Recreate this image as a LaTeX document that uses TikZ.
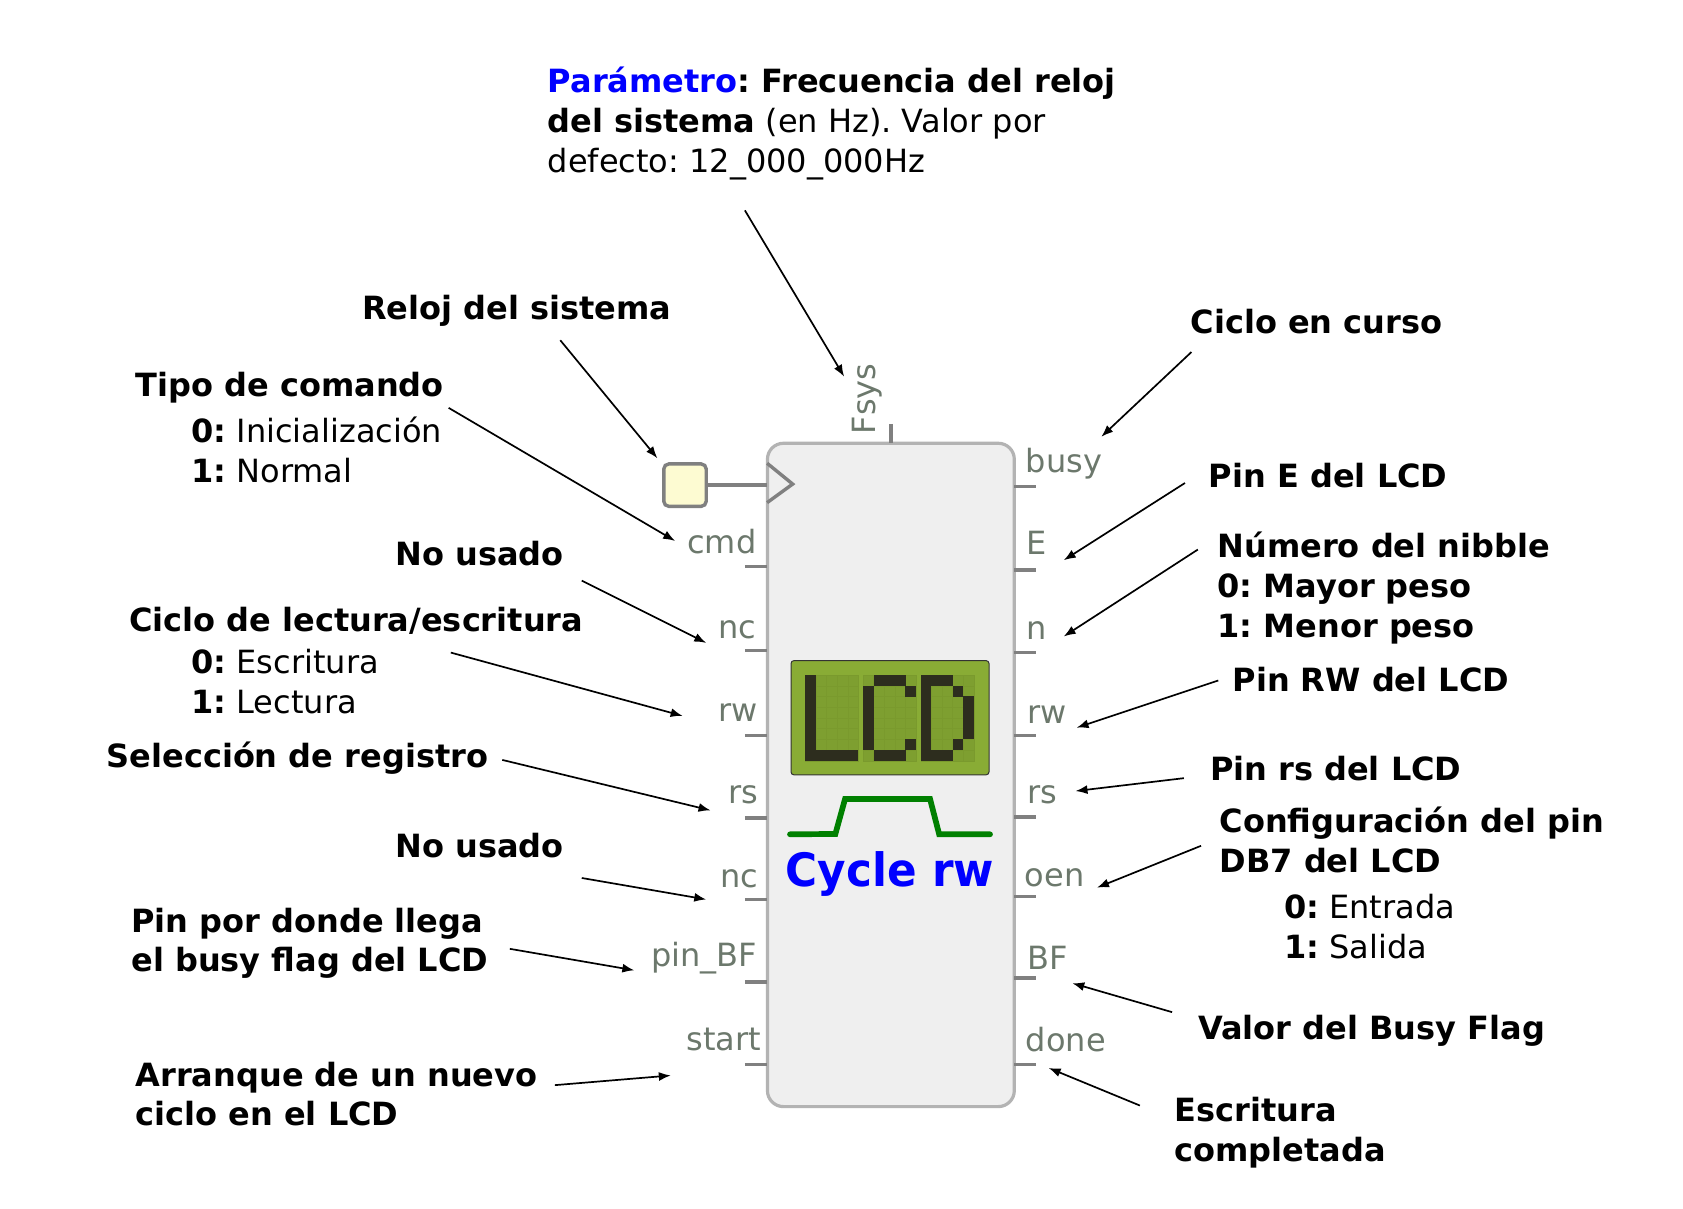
\documentclass[tikz,border=0pt]{standalone}
\usepackage{graphicx}
\usepackage{fontspec}
\setmainfont{DejaVu Sans}
\usetikzlibrary{arrows.meta}
\definecolor{blockFill}{HTML}{EFEFEF}
\definecolor{blockLine}{HTML}{B3B3B3}
\definecolor{stubLine}{HTML}{808080}
\definecolor{pinText}{HTML}{6C786C}
\definecolor{clockFill}{HTML}{FDFBD2}
\definecolor{lcdFill}{HTML}{89AC35}
\definecolor{lcdCell}{HTML}{7E9F30}
\definecolor{lcdGrid}{HTML}{7A9A2D}
\definecolor{lcdDot}{HTML}{2D2D1E}
\tikzset{%
  >={Latex[width=4.5pt,length=6pt]},
  % Specifications for style of nodes:
        callout/.style = {inner sep=0pt, align=left, anchor=base west,
                          font=\fontsize{16}{19.86}\selectfont\frenchspacing},
       pinLabel/.style = {inner sep=0pt, text=pinText,
                          font=\fontsize{16}{19.86}\selectfont},
        pinLeft/.style = {pinLabel, anchor=base east},
       pinRight/.style = {pinLabel, anchor=base west},
        pinStub/.style = {draw=stubLine, line width=1.7pt},
        pointer/.style = {->, line width=0.85pt},
}

\begin{document}
\begin{tikzpicture}[x=0.53665pt, y=-0.53665pt]
  \useasboundingbox (0,0) rectangle (1568,1125.5);

  % Specification of the block, clock and pins
  \node (block) [draw=blockLine, fill=blockFill, line width=1.6pt, rounded corners=8pt,
                 minimum width=230*0.53665pt, minimum height=618*0.53665pt, inner sep=0pt]
        at (830,722) {};
  \node (clock) [draw=stubLine, fill=clockFill, line width=1.7pt, rounded corners=2.5pt,
                 minimum size=39.5*0.53665pt, inner sep=0pt] at (638.2,452) {};
  \draw[pinStub] (clock.east) -- (714.7,452);
  \draw[pinStub] (714.7,431.6) -- (738.5,451) -- (714.7,468.3);
  \draw[pinStub] (830,395) -- (830,413);

  \draw[pinStub] (694,528) -- (715,528);
  \draw[pinStub] (694,606) -- (715,606);
  \draw[pinStub] (694,685) -- (715,685);
  \draw[pinStub] (694,762) -- (715,762);
  \draw[pinStub] (694,838) -- (715,838);
  \draw[pinStub] (694,915) -- (715,915);
  \draw[pinStub] (694,992) -- (715,992);
  \draw[pinStub] (945,453) -- (965,453);
  \draw[pinStub] (945,531) -- (965,531);
  \draw[pinStub] (945,608) -- (965,608);
  \draw[pinStub] (945,685) -- (965,685);
  \draw[pinStub] (945,761) -- (965,761);
  \draw[pinStub] (945,835) -- (965,835);
  \draw[pinStub] (945,911) -- (965,911);
  \draw[pinStub] (945,992) -- (965,992);

  \node (pinFsys)  [pinLabel, rotate=90, anchor=base west] at (816,405) {Fsys};
  \node (pinCmd)   [pinLeft]  at (705,516) {cmd};
  \node (pinNcA)   [pinLeft]  at (705,595) {nc};
  \node (pinRwL)   [pinLeft]  at (706.5,672) {rw};
  \node (pinRsL)   [pinLeft]  at (707,749) {rs};
  \node (pinNcB)   [pinLeft]  at (707,827) {nc};
  \node (pinBf)    [pinLeft]  at (705.5,900) {pin\_BF};
  \node (pinStart) [pinLeft]  at (709.5,979) {start};
  \node (pinBusy)  [pinRight] at (955.5,440) {busy};
  \node (pinE)     [pinRight] at (956,517) {E};
  \node (pinN)     [pinRight] at (956,596) {n};
  \node (pinRwR)   [pinRight] at (956.5,674) {rw};
  \node (pinRsR)   [pinRight] at (956.5,749) {rs};
  \node (pinOen)   [pinRight] at (954.5,826) {oen};
  \node (pinBfR)   [pinRight] at (956.5,903) {BF};
  \node (pinDone)  [pinRight] at (955.5,980) {done};

  % LCD display
  \node (lcd) [draw=black!80, fill=lcdFill, line width=0.5pt, rounded corners=1.5pt,
               minimum width=184.5*0.53665pt, minimum height=106.5*0.53665pt, inner sep=0pt]
        at (829.2,668.7) {};
  \foreach \ox in {750.3,804.1,857.8}
    \foreach \c in {0,...,4}
      \foreach \r in {0,...,7}
        \draw[fill=lcdCell, draw=lcdGrid, line width=0.2pt]
          ({\ox+\c*9.876},{628.9+\r*9.98}) rectangle ++(9.876,9.98);
  \foreach \ox/\cells in {%
      750.3/{0/0,0/1,0/2,0/3,0/4,0/5,0/6,0/7,1/7,2/7,3/7,4/7},
      804.1/{1/0,2/0,3/0,4/1,0/1,0/2,0/3,0/4,0/5,0/6,4/6,1/7,2/7,3/7},
      857.8/{0/0,0/1,0/2,0/3,0/4,0/5,0/6,0/7,1/0,2/0,3/1,4/2,4/3,4/4,4/5,3/6,1/7,2/7}}
    \foreach \c/\r in \cells
      \fill[lcdDot] ({\ox+\c*9.876},{628.9+\r*9.98}) rectangle ++(9.976,10.08);

  % Pulse and name of the block
  \draw[green!50!black, line width=2.85pt, line cap=round]
    (736,777.3) -- (778.3,777) -- (787.3,744.4) -- (866.5,744.4) -- (875,777.3) -- (922.4,777.3);
  \node (blockName) [inner sep=0pt, anchor=base, text=blue,
                     font=\fontsize{23}{28}\selectfont\bfseries] at (829,826) {\scalebox{0.95}[1]{Cycle rw}};

  % Specification of the texts (a node's base is its last line)
  \node (lblParam)   [callout] at (510,160.5){\textbf{\textcolor{blue}{Parámetro}: Frecuencia del reloj}\\
                                              \textbf{del sistema} (en Hz). Valor por\\
                                              defecto: 12\_000\_000Hz};
  \node (lblReloj)   [callout] at (337,298)  {\textbf{Reloj del sistema}};
  \node (lblTipo)    [callout] at (126,369)  {\textbf{Tipo de comando}};
  \node (lblTipoVal) [callout] at (178,449.5){\textbf{0:} Inicialización\\\textbf{1:} Normal};
  \node (lblNoA)     [callout] at (368,527)  {\textbf{No usado}};
  \node (lblCiclo)   [callout] at (120,588.5){\textbf{Ciclo de lectura/escritura}};
  \node (lblCicloVal)[callout] at (178,664.5){\textbf{0:} Escritura\\\textbf{1:} Lectura};
  \node (lblSel)     [callout] at (99,715.5) {\textbf{Selección de registro}};
  \node (lblNoB)     [callout] at (368,798.5){\textbf{No usado}};
  \node (lblBusy)    [callout] at (122,905.5){\textbf{Pin por donde llega}\\\textbf{el busy flag del LCD}};
  \node (lblStart)   [callout] at (126,1049) {\textbf{Arranque de un nuevo}\\\textbf{ciclo en el LCD}};
  \node (lblCurso)   [callout] at (1109,310.5){\textbf{Ciclo en curso}};
  \node (lblPinE)    [callout] at (1126,454.5){\textbf{Pin E del LCD}};
  \node (lblNibble)  [callout] at (1134,593.5){\textbf{Número del nibble}\\\textbf{0: Mayor peso}\\\textbf{1: Menor peso}};
  \node (lblPinRw)   [callout] at (1148,644.5){\textbf{Pin RW del LCD}};
  \node (lblPinRs)   [callout] at (1127,727.5){\textbf{Pin rs del LCD}};
  \node (lblConf)    [callout] at (1136,813) {\textbf{Configuración del pin}\\\textbf{DB7 del LCD}};
  \node (lblConfVal) [callout] at (1196,893) {\textbf{0:} Entrada\\\textbf{1:} Salida};
  \node (lblValor)   [callout] at (1116,968.5){\textbf{Valor del Busy Flag}};
  \node (lblDone)    [callout] at (1094,1082){\textbf{Escritura}\\\textbf{completada}};

  % Free ends of the arrows
  \coordinate (tipFsys)  at (786.5,351);
  \coordinate (tipClock) at (612.5,427);
  \coordinate (tipCmd)   at (629,504);
  \coordinate (tipNcA)   at (658,599);
  \coordinate (tipRwL)   at (636,667);
  \coordinate (tipRsL)   at (662,755);
  \coordinate (tipNcB)   at (658,838);
  \coordinate (tipBf)    at (591,904);
  \coordinate (tipStart) at (625,1002);
  \coordinate (tipBusy)  at (1026,407);
  \coordinate (tipE)     at (991,522);
  \coordinate (tipN)     at (991,593);
  \coordinate (tipRwR)   at (1003,678);
  \coordinate (tipRsR)   at (1002,737);
  \coordinate (tipOen)   at (1022,827);
  \coordinate (tipBfR)   at (999,916);
  \coordinate (tipDone)  at (977,995);

  % Specification of arrows between texts and pins
  \draw[pointer] ([shift={(184,35.5)}]lblParam.base west) -- (tipFsys);
  \draw[pointer] ([shift={(185,19)}]lblReloj.base west) -- (tipClock);
  \draw[pointer] ([shift={(292,11)}]lblTipo.base west) -- (tipCmd);
  \draw[pointer] ([shift={(174,14)}]lblNoA.base west) -- (tipNcA);
  \draw[pointer] ([shift={(300,19.5)}]lblCiclo.base west) -- (tipRwL);
  \draw[pointer] ([shift={(369,-7.5)}]lblSel.base west) -- (tipRsL);
  \draw[pointer] ([shift={(174,19.5)}]lblNoB.base west) -- (tipNcB);
  \draw[pointer] ([shift={(353,-21.5)}]lblBusy.base west) -- (tipBf);
  \draw[pointer] ([shift={(391,-38)}]lblStart.base west) -- (tipStart);
  \draw[pointer] ([shift={(1,17.5)}]lblCurso.base west) -- (tipBusy);
  \draw[pointer] ([shift={(-22,-4.5)}]lblPinE.base west) -- (tipE);
  \draw[pointer] ([shift={(-18,-81.5)}]lblNibble.base west) -- (tipN);
  \draw[pointer] ([shift={(-13,-10.5)}]lblPinRw.base west) -- (tipRwR);
  \draw[pointer] ([shift={(-24,-2.5)}]lblPinRs.base west) -- (tipRsR);
  \draw[pointer] ([shift={(-17,-25)}]lblConf.base west) -- (tipOen);
  \draw[pointer] ([shift={(-24,-25.5)}]lblValor.base west) -- (tipBfR);
  \draw[pointer] ([shift={(-32,-52)}]lblDone.base west) -- (tipDone);
\end{tikzpicture}
\end{document}
